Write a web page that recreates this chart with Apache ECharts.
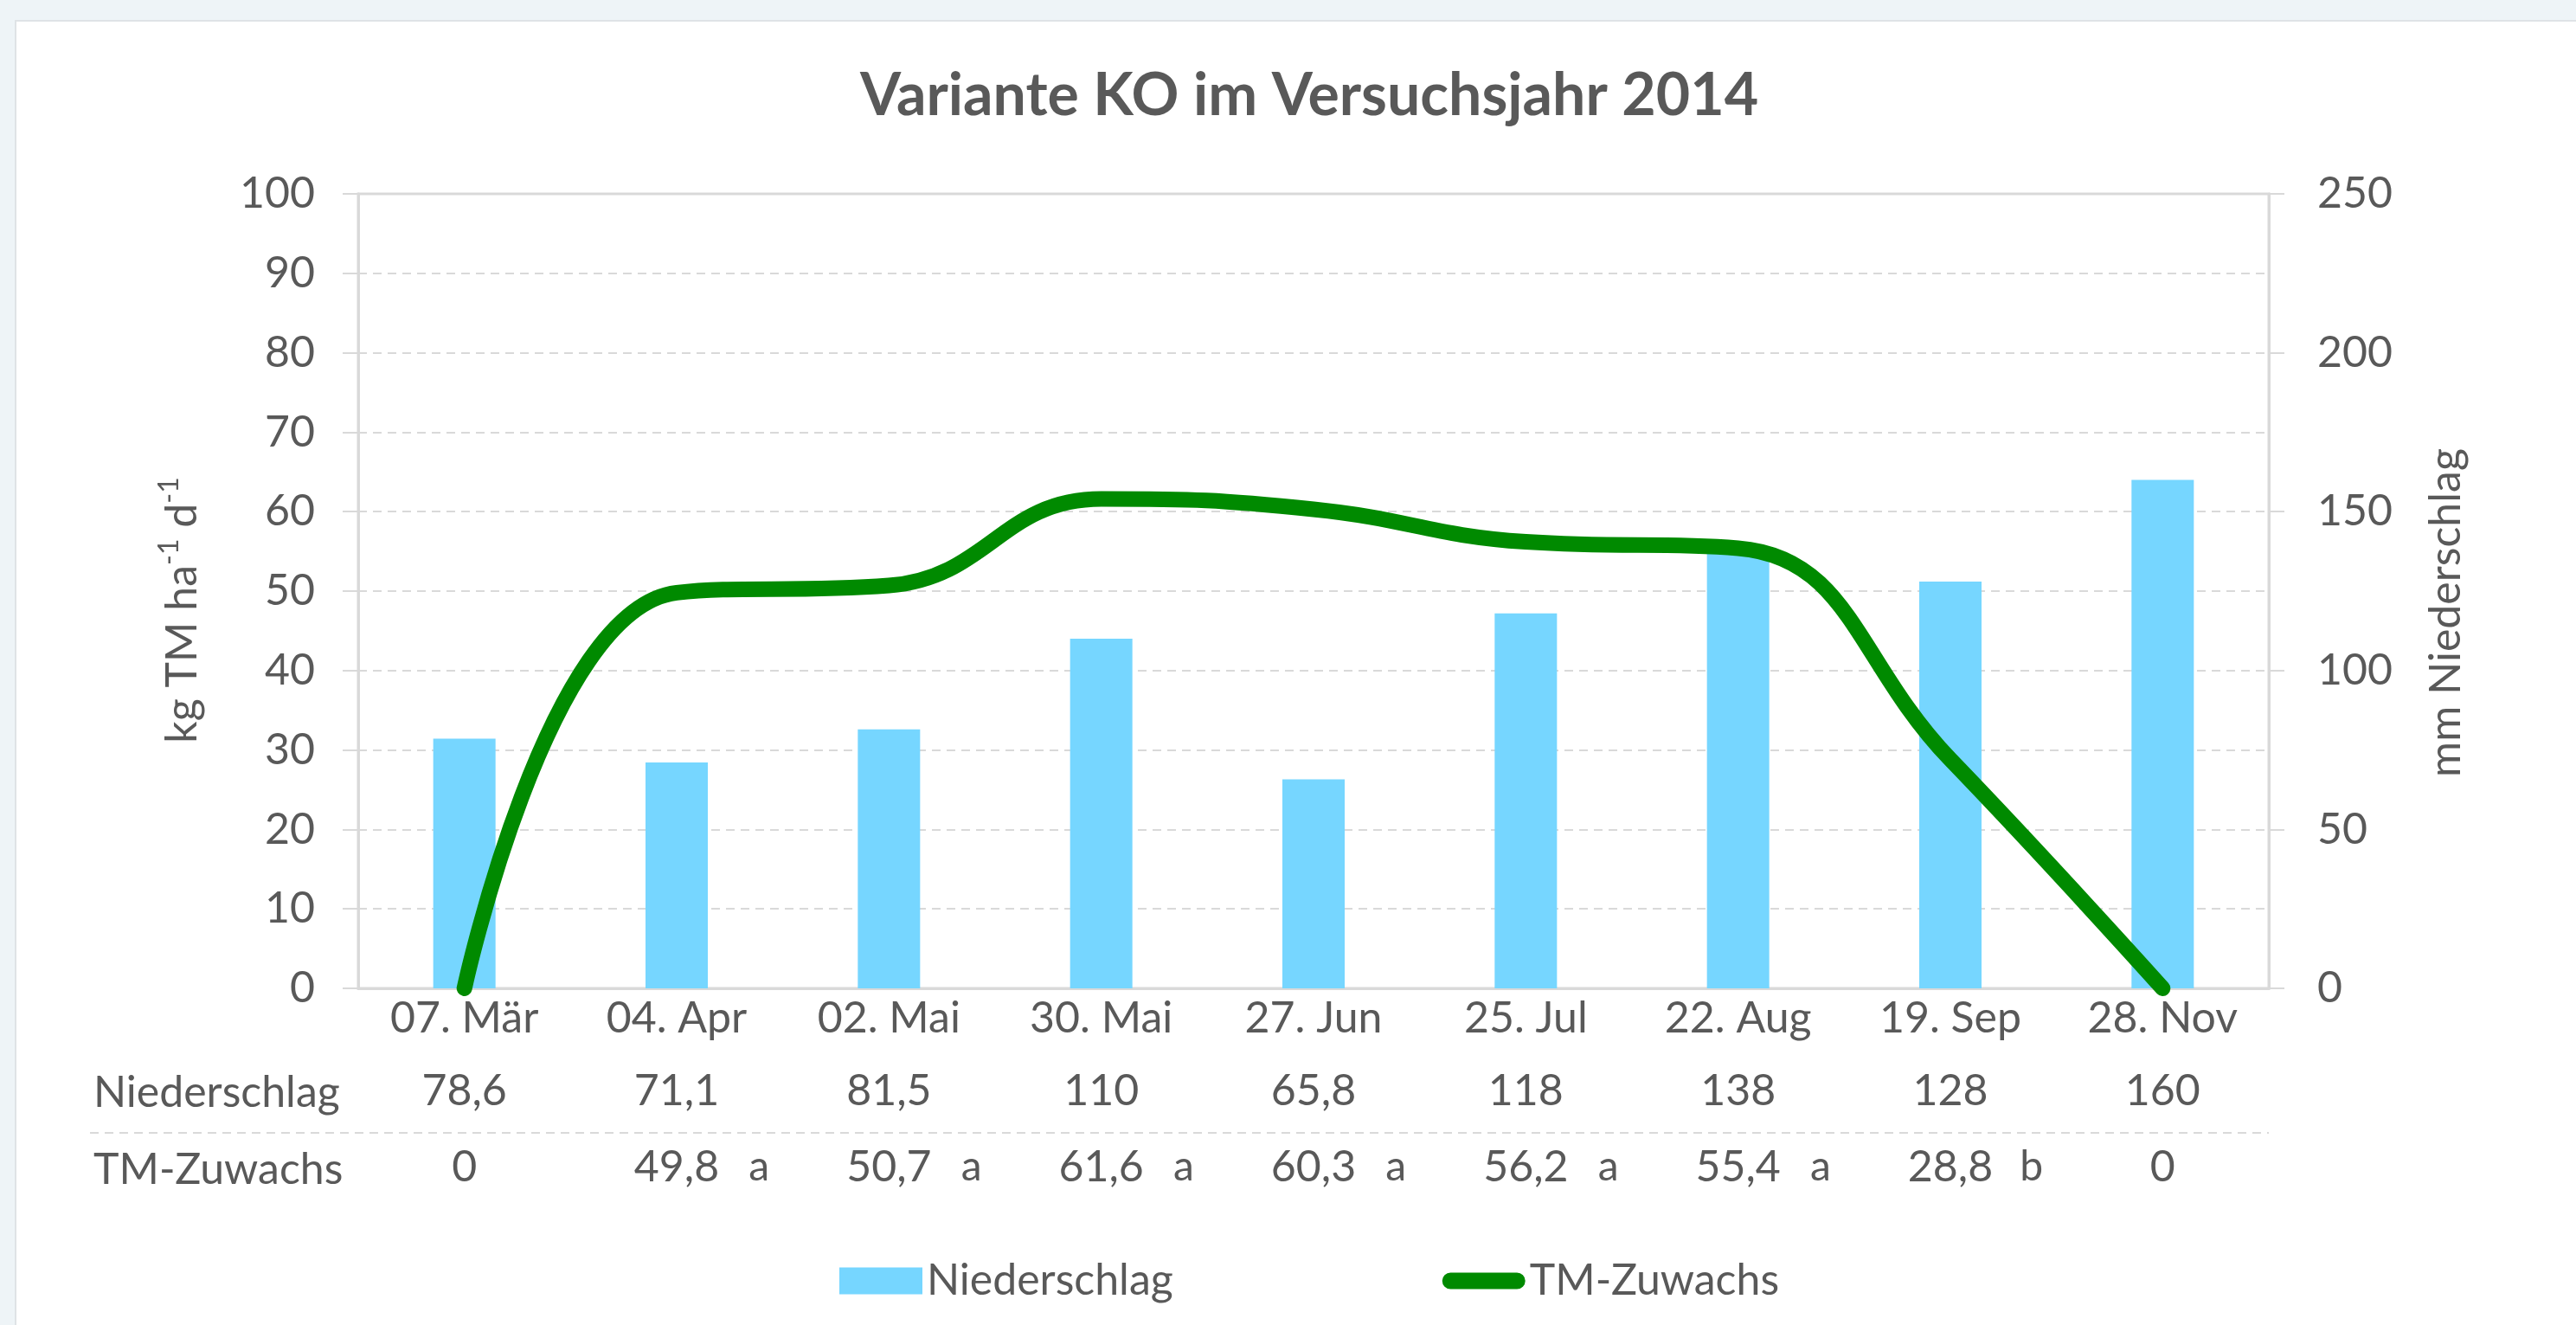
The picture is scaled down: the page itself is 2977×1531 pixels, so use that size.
<!DOCTYPE html>
<html>
<head>
<meta charset="utf-8">
<script src="https://cdn.jsdelivr.net/npm/echarts@6/dist/echarts.min.js"></script>
<style>
  html, body { margin: 0; padding: 0; background: #eef4f7; }
  #chart { width: 2977px; height: 1531px; }
</style>
</head>
<body>
<div id="chart"></div>
<script>
const categories = ['07. Mär', '04. Apr', '02. Mai', '30. Mai', '27. Jun', '25. Jul', '22. Aug', '19. Sep', '28. Nov']
const niederschlag = [78.6, 71.1, 81.5, 110, 65.8, 118, 138, 128, 160]
const tmZuwachs = [0, 49.8, 50.7, 61.6, 60.3, 56.2, 55.4, 28.8, 0]
const tmLetters = ['', 'a', 'a', 'a', 'a', 'a', 'a', 'b', '']
const niederschlagLabels = ['78,6', '71,1', '81,5', '110', '65,8', '118', '138', '128', '160']
const tmLabels = ['0', '49,8', '50,7', '61,6', '60,3', '56,2', '55,4', '28,8', '0']

const textColor = '#595959'
const lineGray = '#d9d9d9'
const green = '#008a00'
const font = 'Lato'

const chart = echarts.init(document.getElementById('chart'))

const tableAxis = (offset, formatter, rich) => ({
  type: 'category',
  data: categories,
  position: 'bottom',
  offset,
  axisLine: { show: false },
  axisTick: { show: false },
  splitLine: { show: false },
  axisLabel: {
    interval: 0,
    margin: 8,
    color: textColor,
    fontFamily: font,
    fontSize: 50,
    formatter,
    rich
  }
})

chart.setOption({
  backgroundColor: '#eef4f7',
  animation: false,
  title: {
    text: 'Variante KO im Versuchsjahr 2014',
    left: 1508,
    top: 72,
    textAlign: 'center',
    textStyle: { color: textColor, fontFamily: font, fontWeight: 'bold', fontSize: 68 }
  },
  graphic: [
    {
      type: 'rect',
      z: -10,
      shape: { x: 18, y: 24, width: 2990, height: 1540 },
      style: { fill: '#ffffff', stroke: '#dfe3e6', lineWidth: 2 }
    },
    {
      type: 'line',
      shape: { x1: 104, y1: 1309, x2: 2622, y2: 1309 },
      style: { stroke: lineGray, lineWidth: 2, lineDash: [10, 7] }
    },
    {
      type: 'text',
      x: 108, y: 1263,
      style: { text: 'Niederschlag', fill: textColor, font: '50px Lato', textVerticalAlign: 'middle' }
    },
    {
      type: 'text',
      x: 108, y: 1352,
      style: { text: 'TM-Zuwachs', fill: textColor, font: '50px Lato', textVerticalAlign: 'middle' }
    }
  ],
  legend: {
    left: 965,
    top: 1450,
    itemWidth: 96,
    itemHeight: 31,
    itemGap: 311,
    textStyle: { color: textColor, fontFamily: font, fontSize: 50 },
    data: [
      { name: 'Niederschlag', icon: 'rect' },
      {
        name: 'TM-Zuwachs',
        icon: 'path://M10,0 L90,0 A10,10 0 0 1 90,20 L10,20 A10,10 0 0 1 10,0 Z',
        itemStyle: { color: green }
      }
    ]
  },
  grid: {
    left: 414,
    right: 355,
    top: 224,
    bottom: 389,
    show: true,
    borderColor: lineGray,
    borderWidth: 3,
    backgroundColor: '#ffffff'
  },
  xAxis: [
    {
      type: 'category',
      data: categories,
      axisLine: { lineStyle: { color: lineGray, width: 3 } },
      axisTick: { show: false },
      axisLabel: { interval: 0, margin: 10, color: textColor, fontFamily: font, fontSize: 50 }
    },
    tableAxis(86, (v, i) => niederschlagLabels[i]),
    tableAxis(174, (v, i) => tmLetters[i] ? `{p|}{v|${tmLabels[i]}}{l|${tmLetters[i]}}` : tmLabels[i], {
      p: { width: 58 },
      v: { color: textColor, fontFamily: font, fontSize: 50 },
      l: { width: 58, align: 'right', color: textColor, fontFamily: font, fontSize: 48 }
    })
  ],
  yAxis: [
    {
      type: 'value',
      min: 0,
      max: 100,
      interval: 10,
      name: '{n|kg TM ha}{s|-1}{n| d}{s|-1}',
      nameLocation: 'middle',
      nameRotate: 90,
      nameGap: 172,
      nameTextStyle: {
        padding: [0, 44, 0, 0],
        rich: {
          n: { color: textColor, fontFamily: font, fontSize: 50 },
          s: { color: textColor, fontFamily: font, fontSize: 32, padding: [0, 0, 30, 0] }
        }
      },
      axisLine: { show: true, lineStyle: { color: lineGray, width: 3 } },
      axisTick: { show: true, length: 18, lineStyle: { color: lineGray, width: 2 } },
      axisLabel: { margin: 50, color: textColor, fontFamily: font, fontSize: 50 },
      splitLine: { lineStyle: { color: lineGray, width: 2, type: [10, 7] } }
    },
    {
      type: 'value',
      min: 0,
      max: 250,
      interval: 50,
      position: 'right',
      name: 'mm Niederschlag',
      nameLocation: 'middle',
      nameRotate: 90,
      nameGap: 180,
      nameTextStyle: { color: textColor, fontFamily: font, fontSize: 50, padding: [0, 50, 0, 0] },
      axisLine: { show: true, lineStyle: { color: lineGray, width: 3 } },
      axisTick: { show: true, length: 18, lineStyle: { color: lineGray, width: 2 } },
      axisLabel: { margin: 56, color: textColor, fontFamily: font, fontSize: 50 },
      splitLine: { show: false }
    }
  ],
  series: [
    {
      name: 'Niederschlag',
      type: 'bar',
      yAxisIndex: 1,
      barWidth: 72,
      data: niederschlag,
      itemStyle: { color: '#76d6ff' }
    },
    {
      name: 'TM-Zuwachs',
      type: 'line',
      yAxisIndex: 0,
      data: tmZuwachs,
      smooth: 0.45,
      showSymbol: false,
      symbol: 'none',
      z: 5,
      lineStyle: { color: green, width: 18, cap: 'round' },
      itemStyle: { color: green }
    }
  ]
})
</script>
</body>
</html>
